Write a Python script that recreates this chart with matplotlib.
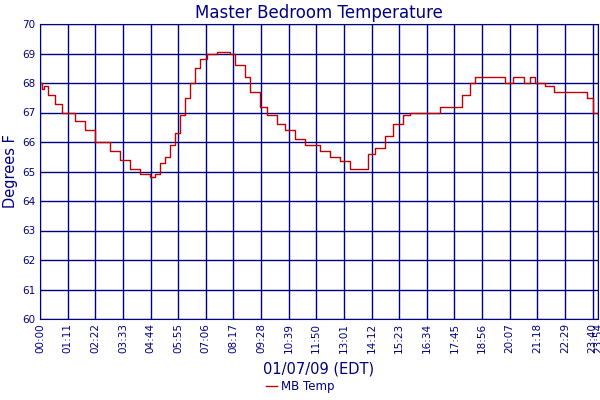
import matplotlib
matplotlib.use("Agg")
import matplotlib.pyplot as plt

minutes = [0, 5, 10, 21, 39, 56, 90, 116, 141, 180, 205, 231, 257, 282, 295, 308, 321, 334, 347, 360,
           372, 385, 398, 411, 429, 455, 488, 501, 527, 539, 565, 583, 609, 629, 655, 681, 719, 745,
           770, 796, 830, 842, 860, 886, 907, 932, 950, 1014, 1027, 1066, 1084, 1104, 1117, 1181,
           1194, 1215, 1245, 1258, 1271, 1297, 1322, 1387, 1407, 1420, 1433]
temps = [68.0, 67.8, 67.9, 67.6, 67.3, 67.0, 66.7, 66.4, 66.0, 65.7, 65.4, 65.1, 64.9, 64.8, 64.9, 65.3,
         65.5, 65.9, 66.3, 66.9, 67.5, 68.0, 68.5, 68.8, 69.0, 69.05, 69.0, 68.6, 68.2, 67.7, 67.2,
         66.9, 66.6, 66.4, 66.1, 65.9, 65.7, 65.5, 65.35, 65.1, 65.1, 65.6, 65.8, 66.2, 66.6, 66.9,
         67.0, 67.0, 67.2, 67.2, 67.6, 68.0, 68.2, 68.2, 68.0, 68.2, 68.0, 68.2, 68.0, 67.9, 67.7,
         67.7, 67.5, 67.0, 66.9]
tick_minutes = [i * 71 for i in range(21)] + [1434]
tick_labels = ["00:00", "01:11", "02:22", "03:33", "04:44", "05:55", "07:06", "08:17", "09:28",
               "10:39", "11:50", "13:01", "14:12", "15:23", "16:34", "17:45", "18:56", "20:07",
               "21:18", "22:29", "23:40", "23:54"]

navy = "#000080"
fig = plt.figure(figsize=(6, 4), dpi=100)
ax = fig.add_axes([40/600, 81/400, 558/600, 295/400])
ax.step(minutes, temps, where="post", color="#c00000", lw=1, label="MB Temp")
ax.set_xlim(0, 1434)
ax.set_ylim(60, 70)
ax.set_yticks(range(60, 71))
ax.set_xticks(tick_minutes)
ax.set_xticklabels(tick_labels, rotation=90, fontsize=7.5, color=navy)
ax.tick_params(axis="y", labelsize=7.5, labelcolor=navy, length=0)
ax.tick_params(axis="x", length=0, pad=3)
ax.grid(True, color=navy, lw=1)
for s in ax.spines.values():
    s.set_color(navy)
ax.set_title("Master Bedroom Temperature", color=navy, fontsize=12, pad=4)
ax.set_ylabel("Degrees F", color=navy, fontsize=10.5, labelpad=3)
ax.set_xlabel("01/07/09 (EDT)", color=navy, fontsize=10.5, labelpad=6)
fig.legend(loc="lower center", bbox_to_anchor=(0.5, -0.01), frameon=False, fontsize=8.5,
           labelcolor=navy, handlelength=1, handletextpad=0.3)
fig.savefig("out.png")
